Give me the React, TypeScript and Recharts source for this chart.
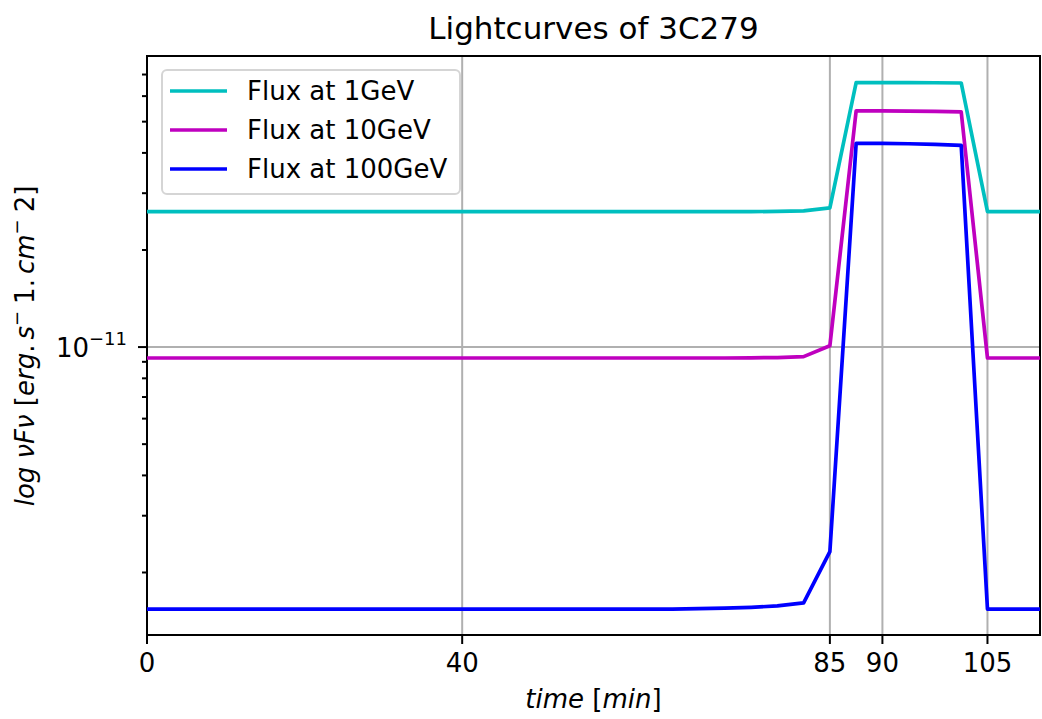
import { LineChart, Line, XAxis, YAxis, CartesianGrid, Legend, ReferenceArea, Customized } from "recharts";

// sample index along the time axis (one sample per step)
const sampleIdx = [
  0, 1, 2, 3, 4, 5, 6, 7, 8, 9, 10, 11, 12, 13, 14, 15, 16, 17,
  18, 19, 20, 21, 22, 23, 24, 25, 26, 27, 28, 29, 30, 31, 32, 33, 34,
];

// x ticks sit on sample indices, labelled in minutes
const timeTickIdx = [0, 12, 26, 28, 32];
const timeTickLabels = ["0", "40", "85", "90", "105"];

// nuFnu in erg s^-1 cm^-2
const flux1GeV = [
  2.63e-11, 2.63e-11, 2.63e-11, 2.63e-11, 2.63e-11, 2.63e-11, 2.63e-11, 2.63e-11, 2.63e-11,
  2.63e-11, 2.63e-11, 2.63e-11, 2.63e-11, 2.63e-11, 2.63e-11, 2.63e-11, 2.63e-11, 2.63e-11,
  2.63e-11, 2.63e-11, 2.63e-11, 2.63e-11, 2.63e-11, 2.63e-11, 2.635e-11, 2.645e-11, 2.7e-11,
  6.61e-11, 6.61e-11, 6.61e-11, 6.6e-11, 6.59e-11, 2.63e-11, 2.63e-11, 2.63e-11,
];
const flux10GeV = [
  9.25e-12, 9.25e-12, 9.25e-12, 9.25e-12, 9.25e-12, 9.25e-12, 9.25e-12, 9.25e-12, 9.25e-12,
  9.25e-12, 9.25e-12, 9.25e-12, 9.25e-12, 9.25e-12, 9.25e-12, 9.25e-12, 9.25e-12, 9.25e-12,
  9.25e-12, 9.25e-12, 9.25e-12, 9.25e-12, 9.25e-12, 9.26e-12, 9.28e-12, 9.34e-12, 1.01e-11,
  5.4e-11, 5.4e-11, 5.39e-11, 5.38e-11, 5.36e-11, 9.25e-12, 9.25e-12, 9.25e-12,
];
const flux100GeV = [
  1.54e-12, 1.54e-12, 1.54e-12, 1.54e-12, 1.54e-12, 1.54e-12, 1.54e-12, 1.54e-12, 1.54e-12,
  1.54e-12, 1.54e-12, 1.54e-12, 1.54e-12, 1.54e-12, 1.54e-12, 1.54e-12, 1.54e-12, 1.54e-12,
  1.54e-12, 1.54e-12, 1.54e-12, 1.545e-12, 1.55e-12, 1.56e-12, 1.575e-12, 1.61e-12, 2.32e-12,
  4.28e-11, 4.28e-11, 4.27e-11, 4.25e-11, 4.22e-11, 1.54e-12, 1.54e-12, 1.54e-12,
];

// log axis ticks: one labelled decade, the rest minor
const fluxMajorTicks = [1e-11];
const fluxTicks = [
  2e-12, 3e-12, 4e-12, 5e-12, 6e-12, 7e-12, 8e-12, 9e-12,
  1e-11, 2e-11, 3e-11, 4e-11, 5e-11, 6e-11, 7e-11,
];
const fluxDomain = [1.28e-12, 7.99e-11];

const seriesKeys = ["f1", "f10", "f100"];

const data = sampleIdx.map((i, k) => ({
  i,
  f1: flux1GeV[k],
  f10: flux10GeV[k],
  f100: flux100GeV[k],
}));

const FONT = "DejaVu Sans, sans-serif";

function FluxTick(props: any) {
  const { x, y, payload } = props;
  const major = fluxMajorTicks.includes(payload.value);
  return (
    <g>
      <line x1={x - (major ? 9 : 5)} x2={x} y1={y} y2={y} stroke="#000" strokeWidth={2} />
      {major && (
        <text x={x - 20} y={y + 10} textAnchor="end" fontSize={26} fontFamily={FONT} fill="#000">
          10<tspan dy={-12} fontSize={18}>−11</tspan>
        </text>
      )}
    </g>
  );
}

function LegendBox(props: any) {
  const payload = [...(props.payload || [])].sort(
    (a: any, b: any) => seriesKeys.indexOf(a.dataKey) - seriesKeys.indexOf(b.dataKey)
  );
  return (
    <div
      style={{
        width: 300,
        height: 126,
        boxSizing: "border-box",
        border: "2px solid #d5d5d5",
        borderRadius: 6,
        background: "rgba(255,255,255,0.8)",
        position: "relative",
        fontFamily: FONT,
        fontSize: 26,
        color: "#000",
      }}
    >
      {payload.map((p: any, k: number) => (
        <div
          key={p.value}
          style={{
            position: "absolute",
            left: 7,
            top: 3 + k * 38.8,
            height: 34,
            display: "flex",
            alignItems: "center",
            whiteSpace: "nowrap",
          }}
        >
          <svg width={57} height={6} style={{ display: "block" }}>
            <line x1={0} x2={57} y1={3} y2={3} stroke={p.color} strokeWidth={3.7} />
          </svg>
          <span style={{ marginLeft: 20 }}>{p.value}</span>
        </div>
      ))}
    </div>
  );
}

function Titles() {
  return (
    <g fontFamily={FONT} fill="#000">
      <text x={593.5} y={39} textAnchor="middle" fontSize={31}>
        Lightcurves of 3C279
      </text>
      <text x={593.5} y={708} textAnchor="middle" fontSize={26}>
        <tspan fontStyle="italic">time</tspan> [<tspan fontStyle="italic">min</tspan>]
      </text>
      <text x={34} y={346} textAnchor="middle" fontSize={26} transform="rotate(-90 34 346)" xmlSpace="preserve">
        <tspan fontStyle="italic">log</tspan> <tspan fontStyle="italic">νFν</tspan> [<tspan fontStyle="italic">erg</tspan>.<tspan fontStyle="italic" dx={5}>s</tspan><tspan dy={-11} fontSize={18}>−</tspan><tspan dy={11} dx={7}>1.</tspan><tspan fontStyle="italic" dx={5}>cm</tspan><tspan dy={-11} fontSize={18}>−</tspan><tspan dy={11} dx={7}>2]</tspan>
      </text>
    </g>
  );
}

export default function App() {
  return (
    <div style={{ position: "absolute", left: 0, top: 0, fontFamily: FONT }}>
      <LineChart width={1042} height={719} data={data} margin={{ top: 56, right: 2, left: 0, bottom: 0 }}>
        <CartesianGrid
          stroke="#b0b0b0"
          strokeWidth={2}
          horizontalValues={fluxMajorTicks}
          verticalValues={timeTickIdx}
        />
        <XAxis
          dataKey="i"
          type="number"
          domain={[0, 34]}
          allowDataOverflow
          ticks={timeTickIdx}
          interval={0}
          tickFormatter={(v: number) => timeTickLabels[timeTickIdx.indexOf(v)]}
          axisLine={false}
          tickLine={{ stroke: "#000", strokeWidth: 2 }}
          tickSize={9}
          tickMargin={10}
          height={84}
          tick={{ fontSize: 26, fill: "#000", fontFamily: FONT }}
        />
        <YAxis
          type="number"
          scale="log"
          domain={fluxDomain}
          allowDataOverflow
          ticks={fluxTicks}
          interval={0}
          width={147}
          axisLine={false}
          tickLine={false}
          tickSize={0}
          tickMargin={0}
          tick={<FluxTick />}
        />
        <Line type="linear" dataKey="f1" name="Flux at 1GeV" stroke="#00bfbf" strokeWidth={3.7} strokeLinejoin="round" dot={false} activeDot={false} isAnimationActive={false} />
        <Line type="linear" dataKey="f10" name="Flux at 10GeV" stroke="#bf00bf" strokeWidth={3.7} strokeLinejoin="round" dot={false} activeDot={false} isAnimationActive={false} />
        <Line type="linear" dataKey="f100" name="Flux at 100GeV" stroke="#0000ff" strokeWidth={3.7} strokeLinejoin="round" dot={false} activeDot={false} isAnimationActive={false} />
        <ReferenceArea x1={0} x2={34} y1={fluxDomain[0]} y2={fluxDomain[1]} fill="none" stroke="#000" strokeWidth={2} fillOpacity={0} />
        <Legend
          layout="vertical"
          align="center"
          verticalAlign="middle"
          content={<LegendBox />}
          wrapperStyle={{ left: 161, top: 69, width: 300, height: 126 }}
        />
        <Customized component={<Titles />} />
      </LineChart>
    </div>
  );
}
